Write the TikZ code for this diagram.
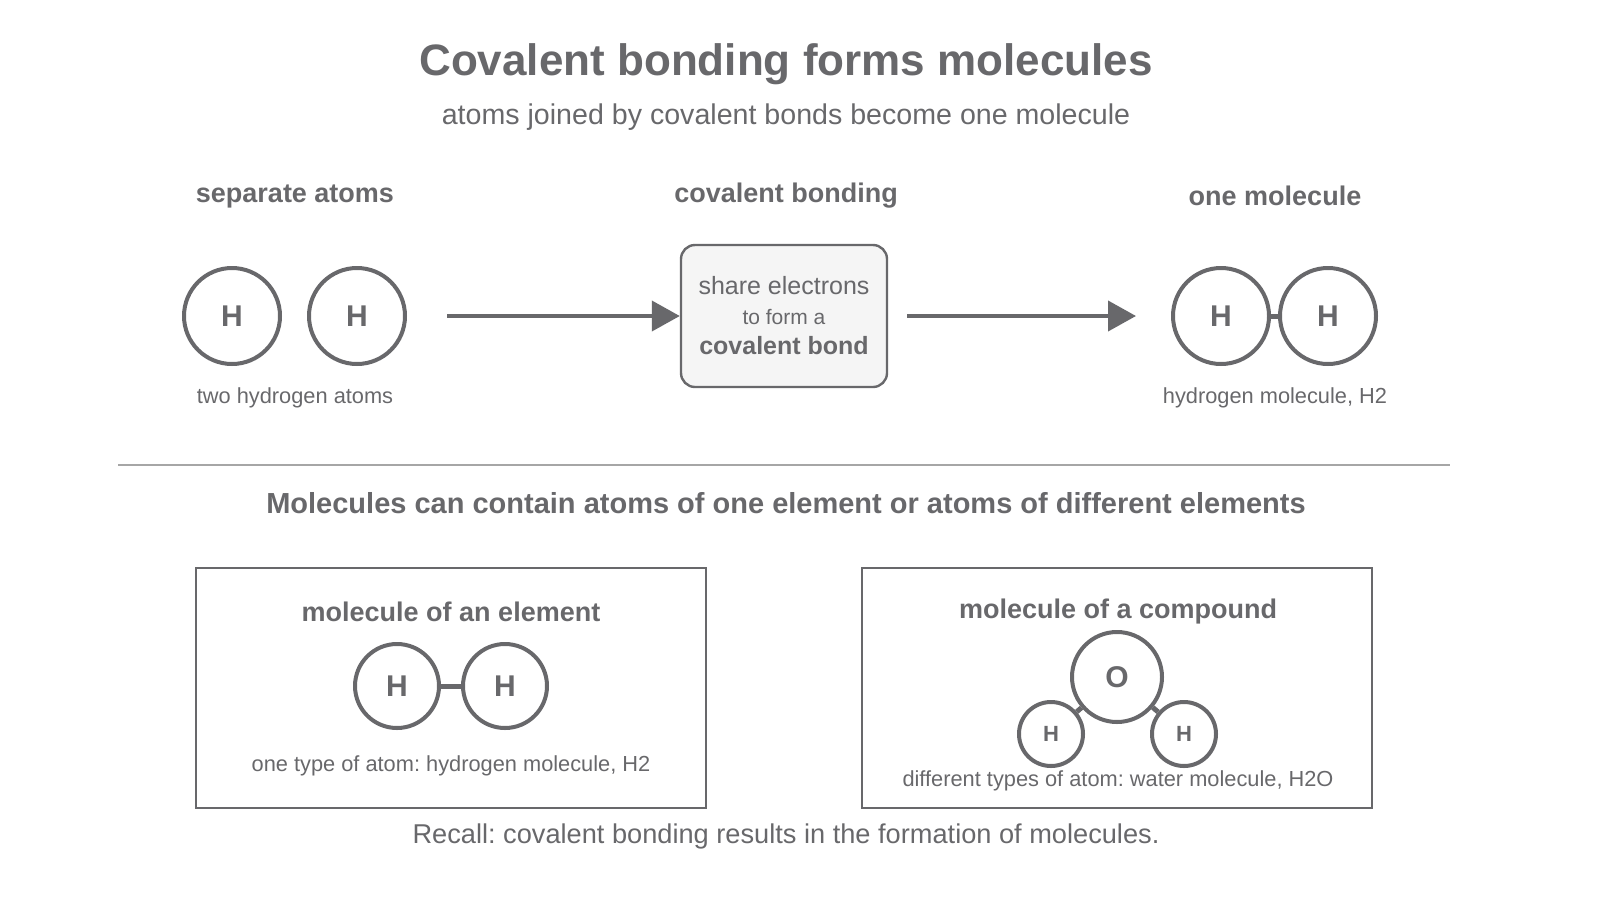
\documentclass[tikz,border=0pt]{standalone}
\usepackage{fontspec}
\setmainfont{Liberation Sans}
\usetikzlibrary{arrows.meta}
\definecolor{ink}{HTML}{68686B}
\frenchspacing
\begin{document}
\begin{tikzpicture}[x=0.5pt,y=-0.5pt,
  atom/.style={circle,draw=ink,line width=2pt,inner sep=0pt,font=\bfseries\fontsize{15}{18}\selectfont,text=ink},
  bond/.style={draw=ink,line width=2.5pt},
  lbl/.style={text=ink,font=\fontsize{10.9}{13}\selectfont},
  head/.style={text=ink,font=\bfseries\fontsize{13.5}{16}\selectfont},
  arr/.style={draw=ink,line width=2pt,-{Triangle[length=14pt,width=15pt]}},
  panel/.style={draw=ink,line width=1.2pt}]
\useasboundingbox (0,0) rectangle (1600,900);
\node[text=ink,font=\bfseries\fontsize{22}{26}\selectfont] (title) at (786,64) {Covalent bonding forms molecules};
\node[text=ink,font=\fontsize{14.3}{17}\selectfont] (sub) at (786,117) {atoms joined by covalent bonds become one molecule};
\node[head] (h1) at (295,196) {separate atoms};
\node[head] (h2) at (786,196) {covalent bonding};
\node[head] (h3) at (1275,196) {one molecule};
\node[atom,minimum size=48pt] (a1) at (232,316) {H};
\node[atom,minimum size=48pt] (a2) at (357,316) {H};
\node[lbl] (l1) at (295,398) {two hydrogen atoms};
\node[draw=ink,line width=1.2pt,fill=black!4,rounded corners=7pt,minimum width=103pt,minimum height=71pt,align=center,text=ink] (box) at (784,316)
 {{\fontsize{12.5}{15}\selectfont share electrons}\\[3pt]{\fontsize{10.5}{12}\selectfont to form a}\\[3pt]{\bfseries\fontsize{12.5}{15}\selectfont covalent bond}};
\coordinate (s1) at (447,316); \coordinate (s2) at (907,316);
\draw[arr] (s1) -- (box.west);
\node[atom,minimum size=48pt] (m1) at (1221,316) {H};
\node[atom,minimum size=48pt] (m2) at (1328,316) {H};
\draw[arr] (s2) -- (1136,316);
\draw[bond,line cap=round] (m1.east) -- (m2.west);
\node[lbl] (l3) at (1275,398) {hydrogen molecule, H2};
\draw[black!35,line width=0.7pt] (118,465) coordinate (sa) -- (1450,465) coordinate (sb);
\node[text=ink,font=\bfseries\fontsize{14.5}{17}\selectfont] (h4) at (786,503) {Molecules can contain atoms of one element or atoms of different elements};
\node[panel,minimum width=255pt,minimum height=120pt] (p1) at (451,688) {};
\node[panel,minimum width=255pt,minimum height=120pt] (p2) at (1117,688) {};
\node[head] at (451,612) {molecule of an element};
\node[head] at (1118,612) {molecule of a compound};
\node[atom,minimum size=42pt] (e1) at (397,686) {H};
\node[atom,minimum size=42pt] (e2) at (505,686) {H};
\draw[bond] (e1.east) -- (e2.west);
\node[lbl] at (451,766) {one type of atom: hydrogen molecule, H2};
\node[atom,minimum size=45pt] (o) at (1117,677) {O};
\node[atom,minimum size=32pt,font=\bfseries\fontsize{11}{13}\selectfont] (w1) at (1051,734) {H};
\node[atom,minimum size=32pt,font=\bfseries\fontsize{11}{13}\selectfont] (w2) at (1184,734) {H};
\draw[bond] (o) -- (w1);
\draw[bond] (o) -- (w2);
\node[lbl] at (1118,781) {different types of atom: water molecule, H2O};
\node[text=ink,font=\fontsize{13.6}{16}\selectfont] (rec) at (786,836) {Recall: covalent bonding results in the formation of molecules.};
\end{tikzpicture}
\end{document}
